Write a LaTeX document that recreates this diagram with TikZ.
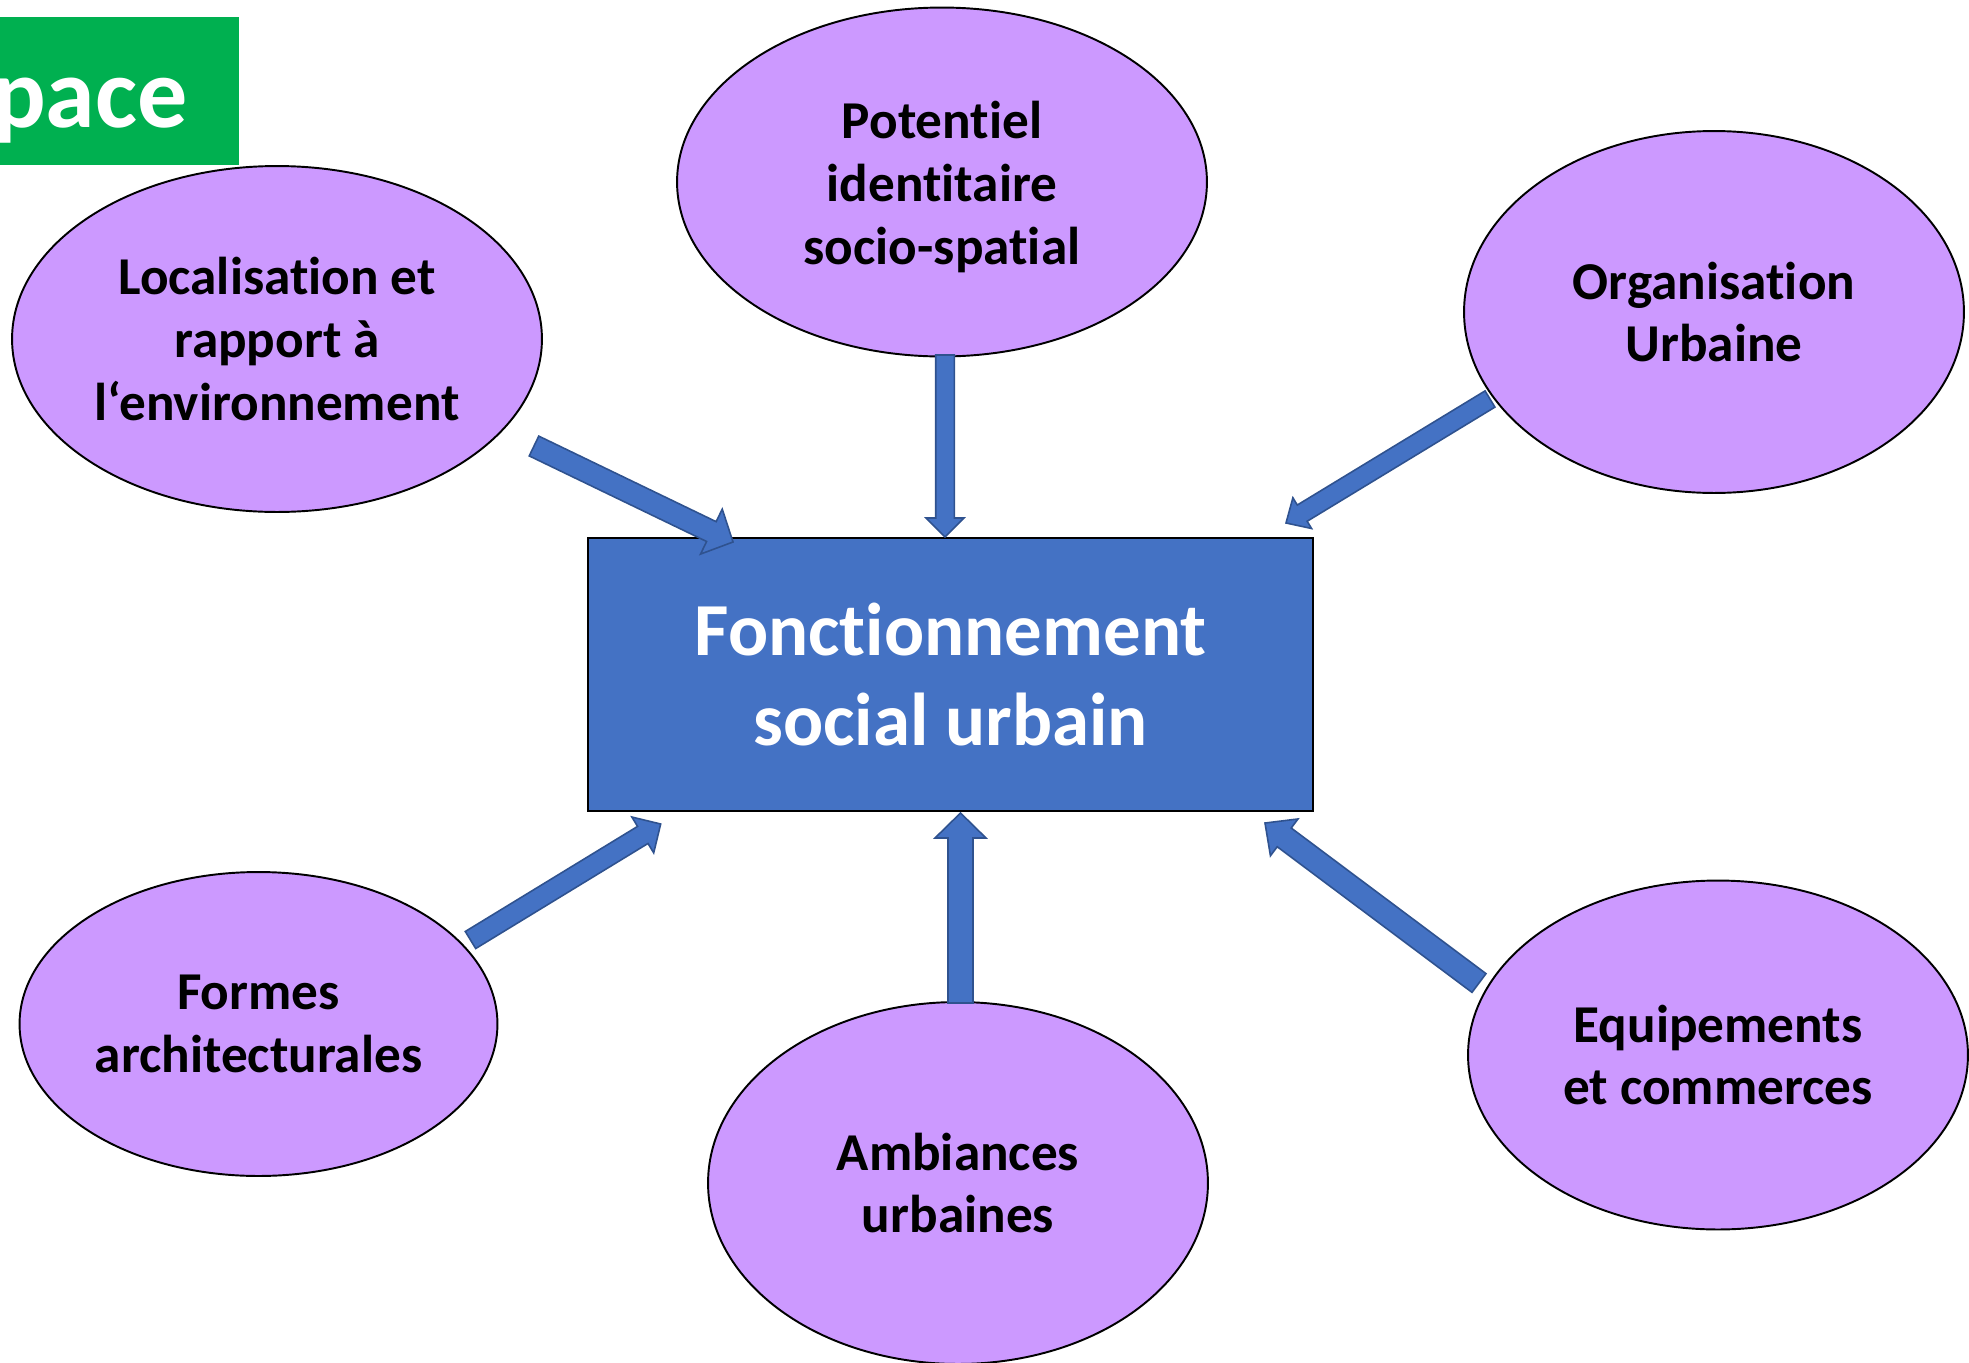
\documentclass[tikz,border=0pt]{standalone}
\usepackage{fontspec}
\setmainfont{Carlito}[Ligatures={NoCommon}]
\usetikzlibrary{shapes.geometric,calc}
\definecolor{lav}{HTML}{CC99FF}
\definecolor{cblue}{HTML}{4472C4}
\definecolor{bdark}{HTML}{2F528F}
\definecolor{cgreen}{HTML}{00B050}
\tikzset{
  ell/.style={ellipse, draw=black, line width=1.1pt, fill=lav, inner sep=0pt, align=center,
    font=\fontsize{30.3}{35.8}\selectfont\bfseries},
  elltext/.style={inner sep=0pt, align=center, font=\fontsize{30.3}{35.8}\selectfont\bfseries},
  centerbox/.style={rectangle, draw=black, line width=1.4pt, fill=cblue, inner sep=0pt, align=center,
    text=white, font=\fontsize{42.6}{51.2}\selectfont\bfseries},
  blockarrow/.style={fill=cblue, draw=bdark, line width=0.9pt, line join=miter},
  titlebox/.style={fill=cgreen, draw=none}
}
\newcommand\blockarr[5]{%
  \draw[blockarrow] ($(#1)!#3!90:(#2)$)
   -- ($($(#2)!#5!(#1)$)!#3!90:(#2)$)
   -- ($($(#2)!#5!(#1)$)!#4!90:(#2)$)
   -- (#2)
   -- ($($(#2)!#5!(#1)$)!#4!-90:(#2)$)
   -- ($($(#2)!#5!(#1)$)!#3!-90:(#2)$)
   -- ($(#1)!#3!-90:(#2)$) -- cycle;}
\begin{document}
\begin{tikzpicture}[x=0.02cm,y=-0.02cm]
\useasboundingbox (0,0) rectangle (1969,1363);
% title box
\begin{scope}
\clip (0,17) rectangle (239,165);
\fill[titlebox] (0,17) rectangle (239,165);
\node[anchor=base east, inner sep=0pt, text=white, font=\fontsize{57}{68}\selectfont\bfseries] (title) at (188,127) {pace};
\end{scope}
% ellipses
\node[ell, minimum width=10.6cm, minimum height=6.92cm] (e1) at (277,339) {Localisation et\\rapport à\\l‘environnement};
\node[ell, minimum width=10.6cm, minimum height=6.98cm] (e2) at (942,182) {};
\node[elltext] (t2) at ([yshift=-0.1cm]e2.center) {Potentiel\\identitaire\\socio-spatial};
\node[ell, minimum width=10.0cm, minimum height=7.24cm] (e3) at (1714,312) {Organisation\\Urbaine};
\node[ell, minimum width=9.56cm, minimum height=6.08cm] (e4) at (258.5,1024) {Formes\\architecturales};
\node[ell, minimum width=10.0cm, minimum height=7.24cm] (e5) at (958,1183) {Ambiances\\urbaines};
\node[ell, minimum width=10.0cm, minimum height=6.98cm] (e6) at (1718,1055) {Equipements\\et commerces};
% center
\node[centerbox, minimum width=14.5cm, minimum height=5.46cm] (c) at (950.5,674.5) {Fonctionnement\\social urbain};
% arrow end points
\coordinate (a1s) at (534,446);   \coordinate (a1t) at (733,542);
\coordinate (a2s) at (945,355);   \coordinate (a2t) at (945,537);
\coordinate (a3s) at (1490,399);  \coordinate (a3t) at (1286,523);
\coordinate (a4s) at (470.5,940); \coordinate (a4t) at (660.7,824);
\coordinate (a5s) at (960.5,1003);\coordinate (a5t) at (960.5,813);
\coordinate (a6s) at (1479,983);  \coordinate (a6t) at (1265,823);
\blockarr{a1s}{a1t}{0.22cm}{0.50cm}{0.48cm}
\blockarr{a2s}{a2t}{0.186cm}{0.38cm}{0.38cm}
\blockarr{a3s}{a3t}{0.19cm}{0.36cm}{0.38cm}
\blockarr{a4s}{a4t}{0.20cm}{0.42cm}{0.42cm}
\blockarr{a5s}{a5t}{0.25cm}{0.51cm}{0.50cm}
\blockarr{a6s}{a6t}{0.234cm}{0.46cm}{0.48cm}
\end{tikzpicture}
\end{document}
